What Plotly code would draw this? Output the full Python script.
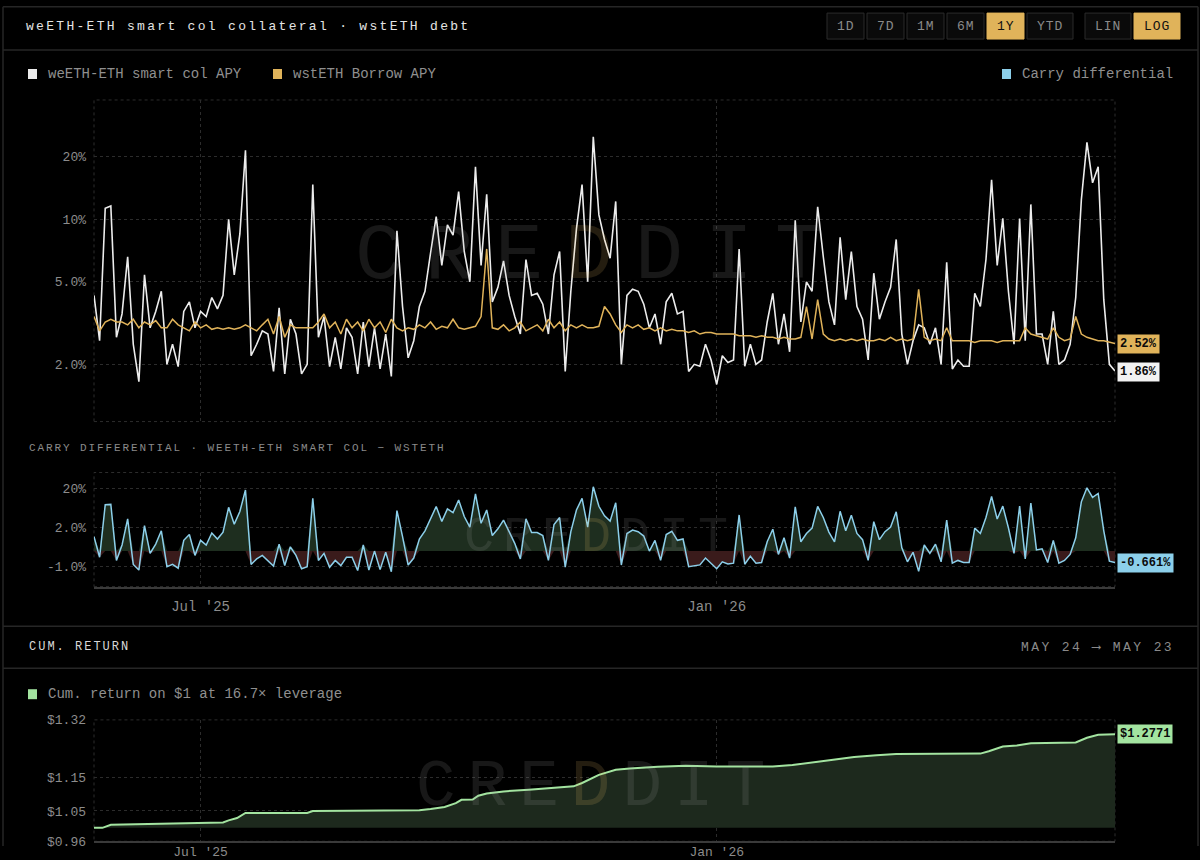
import numpy as np
import pandas as pd
import plotly.graph_objects as go

W, H = 1200, 860

# ---------------- data ----------------
start_date = "2025-05-24"
end_date = "2026-05-23"
dates = pd.date_range(start_date, end_date, freq="2D")

weeth_apy = [
    4.3, 2.6, 11.3, 11.6, 2.7, 3.5, 6.6, 2.5, 1.65, 5.4,
    3.0, 3.6, 4.5, 2.0, 2.5, 1.95, 3.6, 4.0, 3.0, 3.6,
    3.4, 4.2, 3.7, 4.3, 10.0, 5.4, 8.5, 21.5, 2.2, 2.5,
    2.9, 2.8, 1.85, 3.75, 1.8, 3.3, 2.8, 1.8, 2.0, 14.7,
    2.7, 3.4, 1.95, 2.7, 1.9, 3.0, 2.7, 1.8, 3.2, 1.95,
    3.0, 1.9, 2.8, 1.75, 8.8, 3.8, 2.15, 2.6, 3.8, 4.5,
    6.9, 10.3, 6.0, 9.4, 8.4, 13.6, 7.0, 5.0, 17.9, 6.0,
    13.2, 4.0, 4.7, 6.3, 4.3, 3.4, 2.8, 6.4, 4.3, 4.4,
    3.9, 2.8, 5.4, 7.0, 1.85, 4.5, 9.0, 14.7, 5.0, 25.0,
    10.5, 8.0, 6.5, 12.2, 2.0, 4.3, 4.6, 4.5, 3.9, 3.0,
    3.5, 2.5, 4.0, 4.4, 3.5, 3.6, 1.85, 2.0, 1.96, 2.5,
    2.1, 1.6, 2.2, 2.04, 2.1, 7.2, 1.96, 2.5, 2.0, 2.1,
    3.2, 4.4, 2.5, 3.5, 2.3, 9.9, 3.2, 5.0, 4.5, 11.5,
    6.6, 4.0, 3.1, 8.2, 4.1, 7.0, 3.8, 3.3, 2.1, 5.5,
    3.3, 4.0, 4.7, 8.0, 2.8, 2.0, 2.6, 3.1, 3.0, 2.5,
    3.0, 2.0, 6.2, 1.9, 2.1, 1.96, 1.96, 4.4, 3.8, 6.4,
    15.5, 6.0, 10.1, 4.5, 2.5, 10.1, 2.6, 11.8, 2.8, 2.8,
    2.0, 3.6, 2.0, 2.1, 2.5, 4.2, 12.4, 23.5, 15.0, 17.9,
    4.1, 2.0, 1.86,
]

wsteth_borrow_apy = [
    3.4, 2.9, 3.2, 3.3, 3.2, 3.2, 3.1, 3.3, 3.0, 3.2,
    3.1, 3.25, 3.0, 3.0, 3.3, 3.1, 3.0, 2.9, 3.2, 3.0,
    3.1, 2.95, 3.0, 2.95, 3.0, 2.95, 3.0, 3.1, 3.0, 2.9,
    3.1, 3.3, 2.8, 3.4, 2.7, 3.1, 3.0, 3.0, 3.0, 3.0,
    3.2, 3.5, 3.0, 3.2, 2.8, 3.3, 3.0, 3.2, 2.9, 3.3,
    3.0, 3.2, 2.85, 3.3, 3.0, 2.9, 3.0, 2.95, 3.1, 3.0,
    3.2, 2.95, 3.05, 3.0, 3.3, 3.0, 2.95, 3.0, 3.05, 3.4,
    7.2, 3.0, 2.95, 3.1, 2.9, 3.0, 3.2, 2.9, 3.0, 3.1,
    2.9, 3.3, 3.0, 3.2, 2.9, 3.1, 3.0, 3.1, 3.0, 3.0,
    3.05, 3.8, 3.5, 3.1, 2.85, 3.1, 3.0, 3.1, 2.95, 3.0,
    2.9, 3.0, 2.9, 2.95, 2.9, 2.9, 2.85, 2.9, 2.8, 2.85,
    2.85, 2.8, 2.8, 2.8, 2.8, 2.75, 2.75, 2.75, 2.7, 2.75,
    2.7, 2.7, 2.65, 2.7, 2.65, 2.65, 2.7, 3.8, 2.65, 4.1,
    2.8, 2.65, 2.6, 2.65, 2.6, 2.65, 2.6, 2.65, 2.6, 2.6,
    2.65, 2.6, 2.7, 2.6, 2.65, 2.6, 2.65, 4.6, 2.7, 2.6,
    2.65, 2.6, 3.0, 2.6, 2.6, 2.6, 2.6, 2.55, 2.6, 2.6,
    2.6, 2.55, 2.6, 2.6, 2.6, 2.6, 3.0, 2.8, 2.75, 2.7,
    2.65, 3.0, 2.7, 2.6, 2.65, 3.4, 2.8, 2.7, 2.65, 2.6,
    2.6, 2.55, 2.52,
]

cum_dates = [
    "2025-05-24", "2025-05-27", "2025-05-30", "2025-06-21", "2025-06-30",
    "2025-07-09", "2025-07-11", "2025-07-14", "2025-07-17", "2025-08-08",
    "2025-08-10", "2025-09-09", "2025-09-17", "2025-09-21", "2025-09-26",
    "2025-09-30", "2025-10-02", "2025-10-06", "2025-10-08", "2025-10-11",
    "2025-10-17", "2025-10-26", "2025-11-03", "2025-11-11", "2025-11-14",
    "2025-11-17", "2025-11-20", "2025-11-26", "2025-12-01", "2025-12-11",
    "2025-12-21", "2026-01-01", "2026-01-21", "2026-01-28", "2026-02-05",
    "2026-02-11", "2026-02-19", "2026-02-27", "2026-03-06", "2026-04-05",
    "2026-04-08", "2026-04-13", "2026-04-18", "2026-04-23", "2026-05-09",
    "2026-05-13", "2026-05-17", "2026-05-23",
]
cum_values = [
    1.000, 1.000, 1.009, 1.012, 1.013,
    1.016, 1.022, 1.029, 1.044, 1.044,
    1.050, 1.050, 1.052, 1.056, 1.062,
    1.073, 1.083, 1.084, 1.095, 1.102,
    1.108, 1.113, 1.118, 1.123, 1.133,
    1.144, 1.157, 1.172, 1.176, 1.181,
    1.184, 1.182, 1.182, 1.186, 1.194,
    1.200, 1.210, 1.215, 1.219, 1.220,
    1.227, 1.241, 1.244, 1.251, 1.253,
    1.267, 1.276, 1.2771,
]
cum_base = 1.0

x_tick_vals = ["2025-07-01", "2026-01-01"]
x_tick_text = ["Jul '25", "Jan '26"]
apy_tick_vals = [2, 5, 10, 20]
apy_tick_text = ["2.0%", "5.0%", "10%", "20%"]
carry_tick_vals = [20, 2, -1]
carry_tick_text = ["20%", "2.0%", "-1.0%"]
cum_tick_vals = [0.96, 1.05, 1.15, 1.32]
cum_tick_text = ["$0.96", "$1.05", "$1.15", "$1.32"]

# ---------------- styling ----------------
MONO = "Liberation Mono, DejaVu Sans Mono, monospace"
BG = "#000000"
BORDER = "#262626"
GRID = "#2c2c2c"
TICK = "#8c8c8c"
WHITE = "#ececec"
GOLD = "#e0b35a"
BLUE = "#8ccfea"
GREEN = "#a3e4a0"

# vertical calibration of the captured page (target pixel -> figure pixel)
Y_OFF, Y_SCALE = 5.9, 0.978


def px(x):
    return x / W


def fy(y):
    return (y - Y_OFF) / Y_SCALE


def py(y):
    return 1 - fy(y) / H


SYM_C = 0.8


def symlog(v):
    v = np.asarray(v, dtype=float)
    return np.sign(v) * np.log10(1 + np.abs(v) / SYM_C)


weeth = np.array(weeth_apy)
wsteth = np.array(wsteth_borrow_apy)
carry = weeth - wsteth
carry_t = symlog(carry)

fig = go.Figure()

# top chart
fig.add_trace(go.Scatter(x=dates, y=weeth, mode="lines", line=dict(color=WHITE, width=1.6),
                         xaxis="x", yaxis="y", hoverinfo="skip", showlegend=False))
fig.add_trace(go.Scatter(x=dates, y=wsteth, mode="lines", line=dict(color=GOLD, width=1.5),
                         xaxis="x", yaxis="y", hoverinfo="skip", showlegend=False))

# carry chart
fig.add_trace(go.Scatter(x=dates, y=np.maximum(carry_t, 0), mode="lines", line=dict(width=0),
                         fill="tozeroy", fillcolor="#1e2e1f", xaxis="x2", yaxis="y2",
                         hoverinfo="skip", showlegend=False))
fig.add_trace(go.Scatter(x=dates, y=np.minimum(carry_t, 0), mode="lines", line=dict(width=0),
                         fill="tozeroy", fillcolor="#3a1b1b", xaxis="x2", yaxis="y2",
                         hoverinfo="skip", showlegend=False))
fig.add_trace(go.Scatter(x=dates, y=carry_t, mode="lines", line=dict(color=BLUE, width=1.5),
                         xaxis="x2", yaxis="y2", hoverinfo="skip", showlegend=False))

# cum chart
fig.add_trace(go.Scatter(x=cum_dates, y=[cum_base] * len(cum_dates), mode="lines",
                         line=dict(width=0), xaxis="x3", yaxis="y3",
                         hoverinfo="skip", showlegend=False))
fig.add_trace(go.Scatter(x=cum_dates, y=cum_values, mode="lines", line=dict(color=GREEN, width=2),
                         fill="tonexty", fillcolor="#1d291d", xaxis="x3", yaxis="y3",
                         hoverinfo="skip", showlegend=False))

xdom = [px(94), px(1115)]
xrange = [dates[0], dates[-1]]
tickfont = dict(family=MONO, size=13, color=TICK)

common_x = dict(domain=xdom, range=xrange, tickvals=x_tick_vals, ticktext=x_tick_text,
                showgrid=True, gridcolor=GRID, griddash="dot", gridwidth=1,
                zeroline=False, ticks="", tickfont=dict(family=MONO, size=14, color=TICK),
                fixedrange=True)
common_y = dict(showgrid=True, gridcolor=GRID, griddash="dot", gridwidth=1, zeroline=False,
                ticks="", tickfont=tickfont, ticklabelstandoff=7, fixedrange=True)

fig.update_layout(
    width=W, height=H,
    margin=dict(l=0, r=0, t=0, b=0),
    paper_bgcolor=BG, plot_bgcolor=BG,
    showlegend=False,
    xaxis=dict(common_x, anchor="y", showticklabels=False, showline=False),
    yaxis=dict(common_y, domain=[py(422), py(100)], type="log",
               range=[np.log10(1.06), np.log10(37.6)],
               tickvals=apy_tick_vals, ticktext=apy_tick_text, anchor="x"),
    xaxis2=dict(common_x, anchor="y2", showline=True, linecolor="#3a3a3a", linewidth=1.5,
                ticklabelstandoff=6),
    yaxis2=dict(common_y, domain=[py(587.3), py(473)], range=[-0.804, 1.777],
                tickvals=list(symlog(carry_tick_vals)), ticktext=carry_tick_text, anchor="x2"),
    xaxis3=dict(common_x, anchor="y3", showline=True, linecolor="#3a3a3a", linewidth=1.5,
                ticklabelstandoff=-3, tickfont=dict(family=MONO, size=13, color=TICK)),
    yaxis3=dict(common_y, domain=[py(842.3), py(720.7)], range=[0.96, 1.32],
                tickvals=cum_tick_vals, ticktext=cum_tick_text, anchor="x3"),
)

shapes = []
annotations = []

# panel borders
for (x0, y0, x1, y1) in [(3, 6.6, 1198, 6.6), (3, 50, 1198, 50), (3, 627, 1198, 627),
                         (3, 669, 1198, 669)]:
    shapes.append(dict(type="line", xref="paper", yref="paper", x0=px(x0), x1=px(x1),
                       y0=py(y0), y1=py(y1), line=dict(color=BORDER, width=1.5)))
for xx in [3, 1198]:
    shapes.append(dict(type="line", xref="paper", yref="paper", x0=px(xx), x1=px(xx),
                       y0=0, y1=py(6.6), line=dict(color=BORDER, width=1.5)))

# dotted plot frames
for (y0, y1) in [(100, 422), (473, 587.3), (720.7, 842.3)]:
    shapes.append(dict(type="rect", xref="paper", yref="paper", x0=px(94), x1=px(1115),
                       y0=py(y1), y1=py(y0), line=dict(color=GRID, width=1, dash="dot"),
                       layer="below"))


def ls(text, sp):
    return f'<span style="letter-spacing:{sp}px">{text}</span>'


# title
annotations.append(dict(text=ls("weETH-ETH smart col collateral · wstETH debt", 2.3),
                        xref="paper", yref="paper", x=px(24), y=py(26), xanchor="left",
                        yanchor="middle", showarrow=False,
                        font=dict(family=MONO, size=13, color="#e4e4e4")))

# buttons
buttons = [("1D", 827, 864, False), ("7D", 867, 904, False), ("1M", 907, 944, False),
           ("6M", 947, 984, False), ("1Y", 987, 1024, True), ("YTD", 1027, 1073, False),
           ("LIN", 1085, 1131, False), ("LOG", 1134, 1180, True)]
for label, bx0, bx1, active in buttons:
    shapes.append(dict(type="rect", xref="paper", yref="paper", x0=px(bx0), x1=px(bx1),
                       y0=py(39), y1=py(13),
                       line=dict(color=GOLD if active else "#2a2a2a", width=1),
                       fillcolor=GOLD if active else "#0a0a0a"))
    annotations.append(dict(text=ls(label, 1), xref="paper", yref="paper",
                            x=px((bx0 + bx1) / 2), y=py(26), xanchor="center",
                            yanchor="middle", showarrow=False,
                            font=dict(family=MONO, size=13,
                                      color="#111111" if active else "#8a8a8a")))


# legend rows
def legend_item(x_sq, y_c, color, text, x_text):
    shapes.append(dict(type="rect", xref="paper", yref="paper", x0=px(x_sq), x1=px(x_sq + 9),
                       y0=py(y_c + 5), y1=py(y_c - 5), line=dict(width=0), fillcolor=color))
    annotations.append(dict(text=text, xref="paper", yref="paper", x=px(x_text), y=py(y_c),
                            xanchor="left", yanchor="middle", showarrow=False,
                            font=dict(family=MONO, size=14, color="#8f8f8f")))


legend_item(28, 74, WHITE, "weETH-ETH smart col APY", 46)
legend_item(273, 74, GOLD, "wstETH Borrow APY", 291)
legend_item(1002, 74, BLUE, "Carry differential", 1020)
legend_item(28, 695, GREEN, "Cum. return on $1 at 16.7× leverage", 46)

# section labels
annotations.append(dict(text=ls("CARRY DIFFERENTIAL · WEETH-ETH SMART COL − WSTETH", 1.9),
                        xref="paper", yref="paper", x=px(27), y=py(448), xanchor="left",
                        yanchor="middle", showarrow=False,
                        font=dict(family=MONO, size=11, color="#8a8a8a")))
annotations.append(dict(text=ls("CUM. RETURN", 2.0), xref="paper", yref="paper",
                        x=px(27), y=py(648), xanchor="left", yanchor="middle",
                        showarrow=False, font=dict(family=MONO, size=12, color="#d8d8d8")))
annotations.append(dict(text=ls("MAY 24 ⟶ MAY 23", 2.4), xref="paper", yref="paper",
                        x=px(1176), y=py(648), xanchor="right", yanchor="middle",
                        showarrow=False, font=dict(family=MONO, size=13, color="#8a8a8a")))


# last-value labels
def value_label(text, yref, yval, bg):
    annotations.append(dict(text=f"<b>{text}</b>", xref="paper", yref=yref, x=px(1117), y=yval,
                            xanchor="left", yanchor="middle", showarrow=False,
                            bgcolor=bg, borderpad=2,
                            font=dict(family=MONO, size=12, color="#0a0a0a")))


value_label(f"{wsteth_borrow_apy[-1]:.2f}%", "y", np.log10(wsteth_borrow_apy[-1]), GOLD)
value_label(f"{weeth_apy[-1]:.2f}%", "y", np.log10(weeth_apy[-1]) - 0.005, "#f2f2f2")
value_label("-0.661%", "y2", float(carry_t[-1]), BLUE)
value_label(f"${cum_values[-1]:.4f}", "y3", cum_values[-1], GREEN)


# watermarks (drawn faint via annotation opacity so lines stay visible)
def watermark(xc, yc, size, sp):
    txt = (f'<span style="letter-spacing:{sp}px">CRE'
           f'<span style="color:#ffcf70">D</span>DIT</span>')
    annotations.append(dict(text=txt, xref="paper", yref="paper", x=px(xc), y=py(yc),
                            xanchor="center", yanchor="middle", showarrow=False,
                            opacity=0.14,
                            font=dict(family=MONO, size=size, color="#a8a8a8")))


watermark(600, 257, 80, 22)
watermark(600, 538, 50, 9)
watermark(596, 788, 66, 12)

fig.update_layout(shapes=shapes, annotations=annotations)

fig.write_html(
    "out.html",
    config={"displayModeBar": False},
    post_script="document.body.style.margin='0';document.body.style.overflow='hidden';",
)
